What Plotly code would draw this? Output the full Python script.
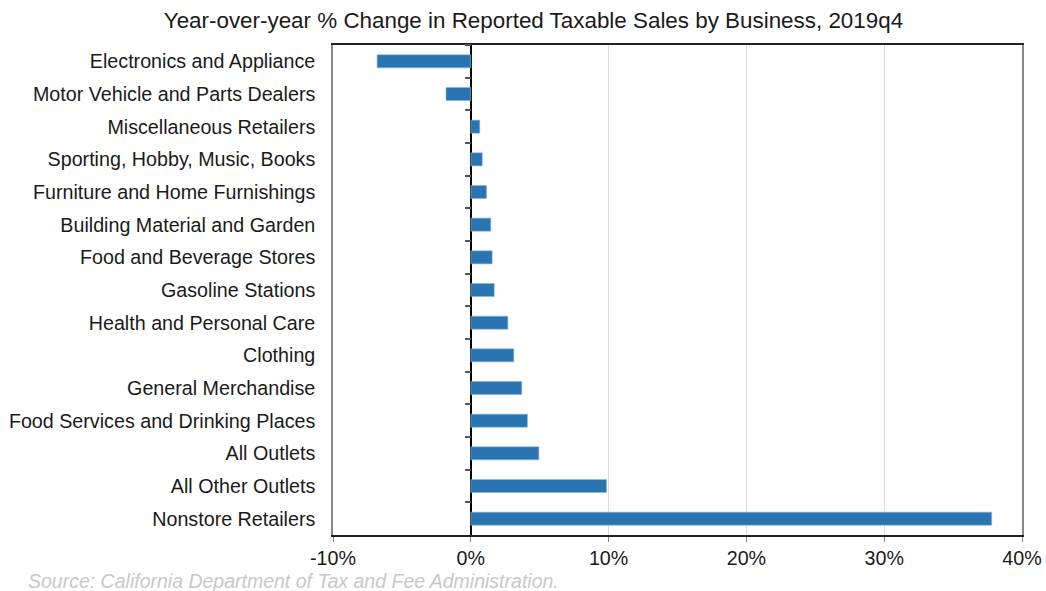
import plotly.graph_objects as go

categories = [
    "Electronics and Appliance",
    "Motor Vehicle and Parts Dealers",
    "Miscellaneous Retailers",
    "Sporting, Hobby, Music, Books",
    "Furniture and Home Furnishings",
    "Building Material and Garden",
    "Food and Beverage Stores",
    "Gasoline Stations",
    "Health and Personal Care",
    "Clothing",
    "General Merchandise",
    "Food Services and Drinking Places",
    "All Outlets",
    "All Other Outlets",
    "Nonstore Retailers",
]
values = [-6.8, -1.8, 0.65, 0.83, 1.14, 1.45, 1.55, 1.7, 2.69, 3.12, 3.7, 4.11, 4.94, 9.85, 37.8]
x_ticks = [-10, 0, 10, 20, 30, 40]
x_tick_labels = ["-10%", "0%", "10%", "20%", "30%", "40%"]

title = "Year-over-year % Change in Reported Taxable Sales by Business, 2019q4"
source = "Source: California Department of Tax and Fee Administration."

font_family = "Liberation Sans, Arial, sans-serif"
n = len(categories)

fig = go.Figure()
fig.add_trace(go.Bar(
    x=values, y=categories, orientation="h",
    marker=dict(color="#2a74b1", line=dict(color="#8ab6dc", width=0.6)),
    hoverinfo="x+y",
))
# invisible trace to carry the tick axis located at zero
fig.add_trace(go.Scatter(
    x=values, y=categories, yaxis="y2", mode="markers",
    marker=dict(opacity=0), hoverinfo="skip", showlegend=False,
))

fig.update_layout(
    width=1046, height=591,
    margin=dict(l=333, r=24, t=45, b=56, autoexpand=False),
    paper_bgcolor="white", plot_bgcolor="white",
    bargap=0.6,
    showlegend=False,
    font=dict(family=font_family, size=19.7, color="#1a1a1a"),
    title=dict(text=title, x=0.51, xanchor="center", y=0.966, yanchor="middle",
               font=dict(size=22.4, color="#1a1a1a")),
    xaxis=dict(
        range=[-10, 40], tickvals=x_ticks, ticktext=x_tick_labels,
        showgrid=True, gridcolor="#dcdcdc", gridwidth=1,
        zeroline=True, zerolinecolor="#000000", zerolinewidth=1.5,
        showline=True, linecolor="#222222", linewidth=1.5, mirror=True,
        ticks="outside", ticklen=5, tickcolor="#888888",
        tickfont=dict(size=19.7, color="#1a1a1a"),
        domain=[0, 1], automargin=False,
    ),
    yaxis=dict(
        categoryorder="array", categoryarray=categories,
        range=[n - 0.5, -0.5], autorange=False,
        showline=True, linecolor="#888888", linewidth=1.5, mirror=True,
        ticks="", showgrid=False, zeroline=False, automargin=False,
        tickfont=dict(size=19.7, color="#1a1a1a"), ticklabelstandoff=12,
    ),
    yaxis2=dict(
        overlaying="y", matches="y", anchor="free", position=0.2, side="left",
        categoryorder="array", categoryarray=categories, automargin=False,
        showticklabels=False, showline=False, showgrid=False, zeroline=False,
        ticks="outside", tickson="boundaries", ticklen=6, tickcolor="#555555", tickwidth=1.5,
    ),
)
fig.update_layout(annotations=[dict(
    text="<i>" + source + "</i>", xref="paper", yref="paper", x=(26 - 333) / 689, y=0,
    xanchor="left", yanchor="top", yshift=-33, showarrow=False,
    font=dict(size=19.5, color="#c8c8c8", family=font_family),
)])

fig.write_html("out.html")
